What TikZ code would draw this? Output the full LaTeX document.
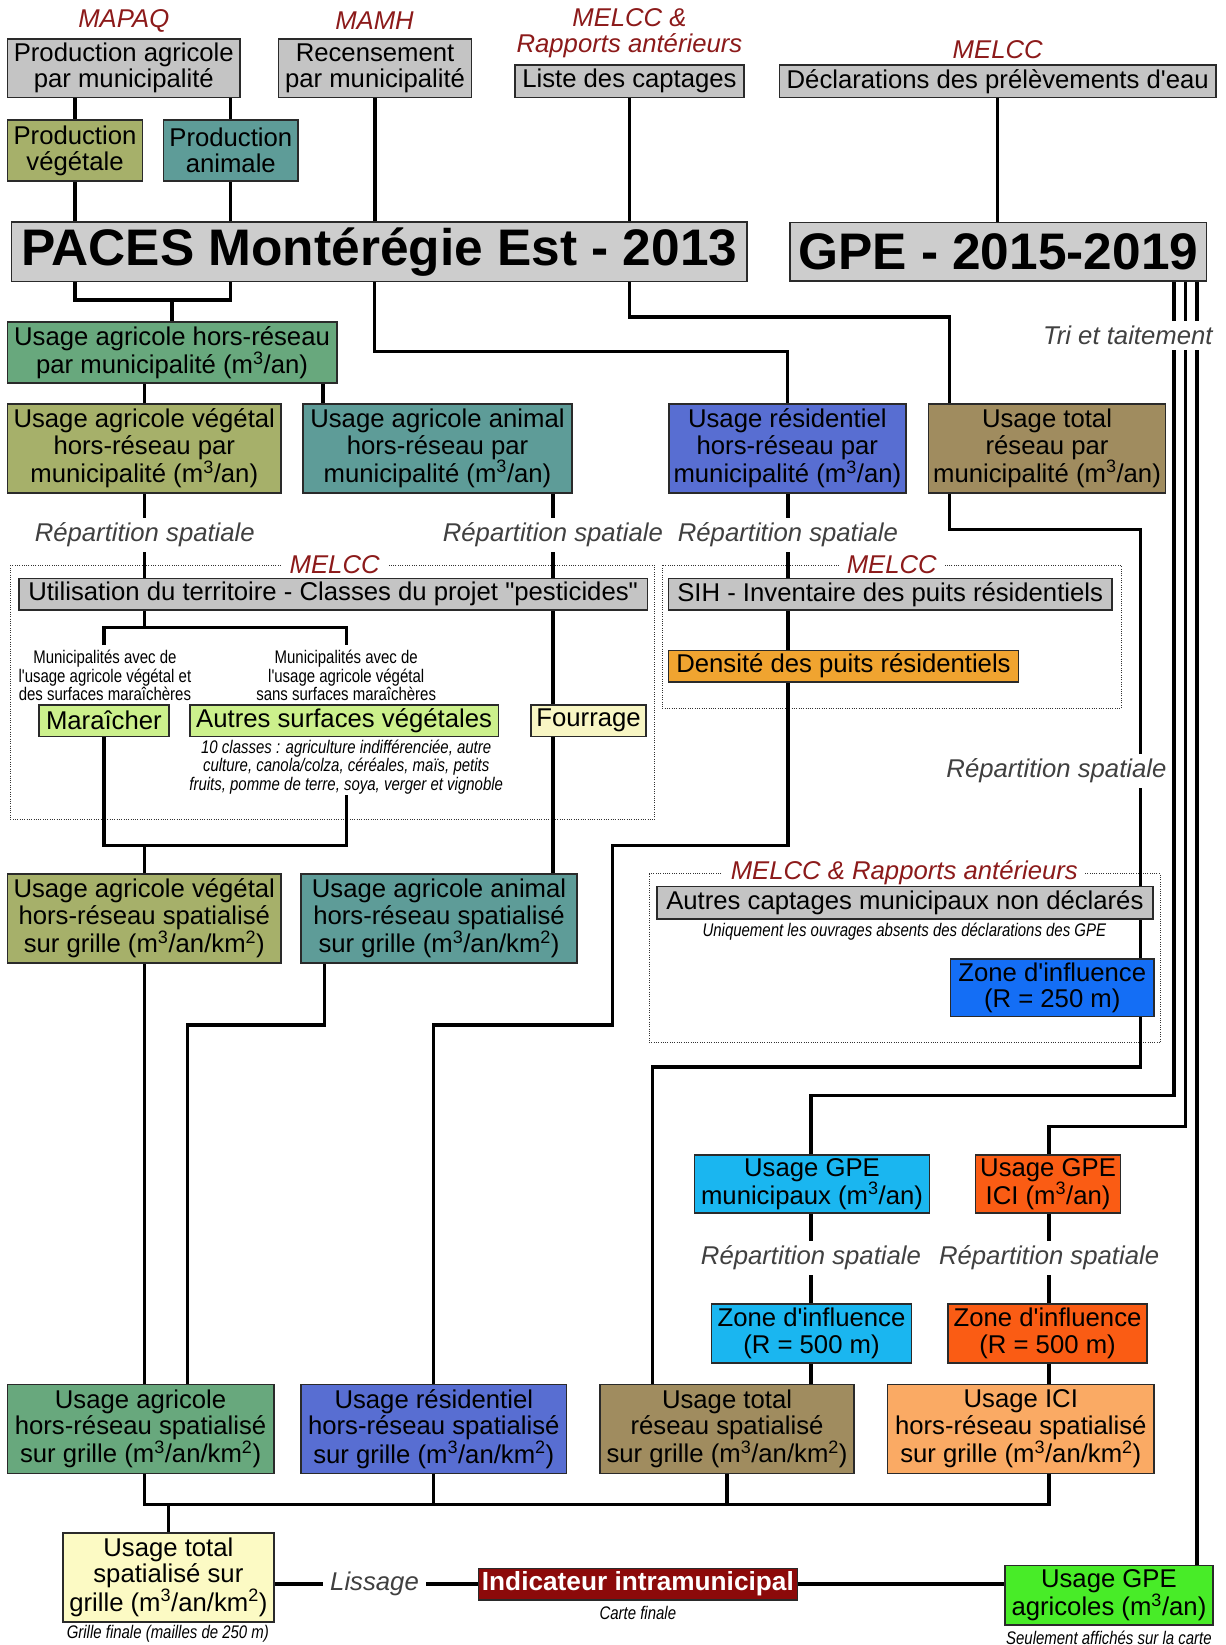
\documentclass[tikz,border=0pt]{standalone}
\usepackage{fontspec}
\setmainfont{Liberation Sans}[Ligatures=TeXOff]
\newfontfamily\narrowf{Liberation Sans}[FakeStretch=0.82,Ligatures=TeXOff]
\usetikzlibrary{backgrounds}
\definecolor{bline}{HTML}{2A2A2A}
\definecolor{cgray}{HTML}{C4C4C4}
\definecolor{cgrayl}{HTML}{CDCDCD}
\definecolor{colive}{HTML}{A6B06A}
\definecolor{cteal}{HTML}{5E9C98}
\definecolor{cgreen}{HTML}{68A87D}
\definecolor{cblue}{HTML}{586ED2}
\definecolor{ctan}{HTML}{A08C5F}
\definecolor{corange}{HTML}{F0A430}
\definecolor{clgreen}{HTML}{CCF08C}
\definecolor{clyellow}{HTML}{F8F6C4}
\definecolor{cbright}{HTML}{146EF5}
\definecolor{ccyan}{HTML}{1AB6F0}
\definecolor{cred}{HTML}{FA5C14}
\definecolor{cpeach}{HTML}{FAAA64}
\definecolor{cyel}{HTML}{FCFAC4}
\definecolor{cind}{HTML}{8C0A0A}
\definecolor{cgpeag}{HTML}{48EC28}
\definecolor{srcred}{HTML}{8C1A1A}
\definecolor{labgray}{HTML}{404040}
\newcommand\mainf{\fontsize{24.5}{25}\selectfont}
\newcommand\smallf{\narrowf\fontsize{17.4}{17.6}\selectfont}
\begin{document}
\begin{tikzpicture}[x=1pt,y=-1pt,
  box/.style={draw=bline, line width=1.5pt, inner sep=0pt, align=center, font=\mainf},
  lab/.style={font=\mainf\itshape, text=labgray, fill=white, inner xsep=3pt, inner ysep=5pt},
  src/.style={font=\mainf\itshape, text=srcred, fill=white, inner sep=2pt, align=center},
  fsrc/.style={src, inner xsep=7pt},
  small/.style={font=\smallf, align=center, inner sep=1pt},
  smalli/.style={font=\smallf\itshape, align=center, inner sep=1pt, fill=white},
  conn/.style={line width=3.2pt, draw=black},
  frame/.style={dash pattern=on 0.9pt off 1.3pt, line width=0.9pt, draw=black!80},
  big/.style={box, font=\fontsize{49}{50}\selectfont\bfseries}]
\useasboundingbox (0,0) rectangle (1168,1568);
% sources
\node[src] (tMAPAQ) at (118,20) {MAPAQ};
\node[src] (tMAMH) at (357,20) {MAMH};
\node[src] (tMELR) at (600,32) {MELCC \&\\Rapports antérieurs};
\node[src] (tMELCC) at (951,47) {MELCC};
% top boxes
\node[box, fill=cgray, minimum width=222, minimum height=56] (A1) at (118,65) {Production agricole\\par municipalité};
\node[box, fill=cgray, minimum width=184, minimum height=56] (A2) at (357.5,65) {Recensement\\par municipalité};
\node[box, fill=cgray, minimum width=218, minimum height=31] (A3) at (600,77.5) {Liste des captages};
\node[box, fill=cgray, minimum width=416, minimum height=31] (A4) at (951,77.5) {Déclarations des prélèvements d'eau};
\node[box, fill=colive, minimum width=129, minimum height=58] (PV) at (71.5,143.5) {Production\\végétale};
\node[box, fill=cteal, minimum width=128, minimum height=58] (PA) at (220,143.5) {Production\\animale};
\node[big, fill=cgrayl, minimum width=701, minimum height=57] (PACES) at (361.5,240) {PACES Montérégie Est - 2013};
\node[big, fill=cgrayl, minimum width=397, minimum height=56] (GPE) at (951.5,240) {GPE - 2015-2019};
\node[lab] (TRI) at (1075,320) {Tri et taitement};
% municipal usage
\node[box, fill=cgreen, minimum width=314, minimum height=58] (UAH) at (164,336) {Usage agricole hors-réseau\\par municipalité (m\textsuperscript{3}/an)};
\node[box, fill=colive, minimum width=261, minimum height=85] (UAV) at (137.5,427.5) {Usage agricole végétal\\hors-réseau par\\municipalité (m\textsuperscript{3}/an)};
\node[box, fill=cteal, minimum width=256, minimum height=85] (UAA) at (417,427.5) {Usage agricole animal\\hors-réseau par\\municipalité (m\textsuperscript{3}/an)};
\node[box, fill=cblue, minimum width=226, minimum height=85] (URH) at (750.5,427.5) {Usage résidentiel\\hors-réseau par\\municipalité (m\textsuperscript{3}/an)};
\node[box, fill=ctan, minimum width=226, minimum height=85] (UTR) at (998,427.5) {Usage total\\réseau par\\municipalité (m\textsuperscript{3}/an)};
\node[lab] (R1) at (138,510) {Répartition spatiale};
\node[lab] (R2) at (527,510) {Répartition spatiale};
\node[lab] (R3) at (751,510) {Répartition spatiale};
% frames labels
\node[fsrc] (M1) at (319,538) {MELCC};
\node[fsrc] (M2) at (850,538) {MELCC};
\node[fsrc] (M3) at (862,832) {MELCC \& Rapports antérieurs};
% land use
\node[box, fill=cgray, minimum width=599, minimum height=30] (UTIL) at (317.5,566.5) {Utilisation du territoire - Classes du projet "pesticides"};
\node[box, fill=cgray, minimum width=423, minimum height=30] (SIH) at (848.5,566.5) {SIH - Inventaire des puits résidentiels};
\node[box, fill=corange, minimum width=334, minimum height=30] (DENS) at (804,635) {Densité des puits résidentiels};
\node[small] (S1) at (100,644) {Municipalités avec de\\l'usage agricole végétal et\\des surfaces maraîchères};
\node[small] (S2) at (330,644) {Municipalités avec de\\l'usage agricole végétal\\sans surfaces maraîchères};
\node[box, fill=clgreen, minimum width=124, minimum height=30] (MAR) at (99,687) {Maraîcher};
\node[box, fill=clgreen, minimum width=294, minimum height=30] (AUT) at (328,687) {Autres surfaces végétales};
\node[box, fill=clyellow, minimum width=110, minimum height=30] (FOUR) at (561,687) {Fourrage};
\node[smalli] (NOTE) at (330,731) {10 classes : agriculture indifférenciée, autre\\culture, canola/colza, céréales, maïs, petits\\fruits, pomme de terre, soya, verger et vignoble};
\node[lab] (R4) at (1007,735) {Répartition spatiale};
% gridded
\node[box, fill=colive, minimum width=261, minimum height=85] (UAVS) at (137.5,875.5) {Usage agricole végétal\\hors-réseau spatialisé\\sur grille (m\textsuperscript{3}/an/km\textsuperscript{2})};
\node[box, fill=cteal, minimum width=263, minimum height=85] (UAAS) at (418.5,875.5) {Usage agricole animal\\hors-réseau spatialisé\\sur grille (m\textsuperscript{3}/an/km\textsuperscript{2})};
\node[box, fill=cgray, minimum width=473, minimum height=31] (AUTC) at (862.5,860.5) {Autres captages municipaux non déclarés};
\node[smalli] (NOTE2) at (862,888) {Uniquement les ouvrages absents des déclarations des GPE};
\node[box, fill=cbright, minimum width=194, minimum height=55] (Z250) at (1003,941.5) {Zone d'influence\\(R = 250 m)};
% GPE
\node[box, fill=ccyan, minimum width=224, minimum height=55] (MUN) at (774,1128.5) {Usage GPE\\municipaux (m\textsuperscript{3}/an)};
\node[box, fill=cred, minimum width=138, minimum height=55] (ICI) at (999,1128.5) {Usage GPE\\ICI (m\textsuperscript{3}/an)};
\node[lab] (R5) at (773,1199) {Répartition spatiale};
\node[lab] (R6) at (1000,1199) {Répartition spatiale};
\node[box, fill=ccyan, minimum width=191, minimum height=56] (Z5a) at (773.5,1271) {Zone d'influence\\(R = 500 m)};
\node[box, fill=cred, minimum width=190, minimum height=56] (Z5b) at (998.5,1271) {Zone d'influence\\(R = 500 m)};
% bottom row
\node[box, fill=cgreen, minimum width=254, minimum height=85] (UAS) at (134,1362) {Usage agricole\\hors-réseau spatialisé\\sur grille (m\textsuperscript{3}/an/km\textsuperscript{2})};
\node[box, fill=cblue, minimum width=253, minimum height=85] (URS) at (413.5,1362) {Usage résidentiel\\hors-réseau spatialisé\\sur grille (m\textsuperscript{3}/an/km\textsuperscript{2})};
\node[box, fill=ctan, minimum width=242, minimum height=85] (UTS) at (693,1362) {Usage total\\réseau spatialisé\\sur grille (m\textsuperscript{3}/an/km\textsuperscript{2})};
\node[box, fill=cpeach, minimum width=254, minimum height=85] (UIS) at (973,1362) {Usage ICI\\hors-réseau spatialisé\\sur grille (m\textsuperscript{3}/an/km\textsuperscript{2})};
\node[box, fill=cyel, minimum width=201, minimum height=85] (UT) at (160.5,1503.5) {Usage total\\spatialisé sur\\grille (m\textsuperscript{3}/an/km\textsuperscript{2})};
\node[smalli] (GF) at (160,1557) {Grille finale (mailles de 250 m)};
\node[lab, inner xsep=7pt] (LIS) at (357,1510) {Lissage};
\node[box, fill=cind, text=white, font=\fontsize{25}{26}\selectfont\bfseries, minimum width=304, minimum height=30] (IND) at (608,1510) {Indicateur intramunicipal};
\node[smalli] (CF) at (608,1537) {Carte finale};
\node[box, fill=cgpeag, minimum width=198, minimum height=57] (GPEAG) at (1057,1520.5) {Usage GPE\\agricoles (m\textsuperscript{3}/an)};
\node[smalli] (SEUL) at (1057,1561) {Seulement affichés sur la carte};
% coordinates
\coordinate (j0) at (164,286);
\coordinate (b1) at (357,335);
\coordinate (b2) at (600,302);
\coordinate (b3) at (905,302);
\coordinate (xa) at (308,0);
\coordinate (xf) at (527,0);
\coordinate (d1) at (751,806);
\coordinate (d2) at (584,806);
\coordinate (d3) at (584,977);
\coordinate (d4) at (413.5,977);
\coordinate (e1) at (905,505);
\coordinate (e2) at (1087,505);
\coordinate (e3) at (1087,1017);
\coordinate (e4) at (622,1017);
\coordinate (f0) at (138,598);
\coordinate (f1) at (99,598);
\coordinate (f2) at (330,598);
\coordinate (f1b) at (99,615);
\coordinate (f2b) at (330,615);
\coordinate (g0) at (138,806);
\coordinate (g1) at (99,806);
\coordinate (g2) at (330,806);
\coordinate (h1) at (309,977);
\coordinate (h2) at (179,977);
\coordinate (L1) at (1119,1044);
\coordinate (L1b) at (773,1044);
\coordinate (L2) at (1130,1074);
\coordinate (L2b) at (1000,1074);
\coordinate (L3) at (1141,0);
\coordinate (k1) at (138,1434);
\coordinate (k2) at (1000,1434);
\begin{scope}[on background layer]
\draw[frame] (10,539) rectangle (624,781);
\draw[frame] (631,539) rectangle (1069,675);
\draw[frame] (619,833) rectangle (1106,994);
\draw[conn] (A1.south -| PV.north) -- (PV.north);
\draw[conn] (A1.south -| PA.north) -- (PA.north);
\draw[conn] (PV.south) -- (PACES.north -| PV.south);
\draw[conn] (PA.south) -- (PACES.north -| PA.south);
\draw[conn] (A2.south) -- (PACES.north -| A2.south);
\draw[conn] (A3.south) -- (PACES.north -| A3.south);
\draw[conn] (A4.south) -- (GPE.north -| A4.south);
\draw[conn] (PACES.south -| PV.south) |- (j0) -| (PACES.south -| PA.south);
\draw[conn] (j0) -- (UAH.north);
\draw[conn] (PACES.south -| b1) -- (b1) -| (URH.north);
\draw[conn] (PACES.south -| b2) -- (b2) -- (b3) -- (UTR.north -| b3);
\draw[conn] (UAH.south -| UAV.north) -- (UAV.north);
\draw[conn] (UAH.south -| xa) -- (UAA.north -| xa);
\draw[conn] (UAV.south) -- (UTIL.north -| UAV.south);
\draw[conn] (UAA.south -| xf) -- (FOUR.north -| xf);
\draw[conn] (URH.south -| d1) -- (d1) -- (d2) -- (d3) -- (d4) -- (URS.north);
\draw[conn] (UTR.south -| e1) -- (e1) -- (e2) -- (e3) -- (e4) -- (UTS.north -| e4);
\draw[conn] (UTIL.south -| f0) -- (f0);
\draw[conn] (f1b) -- (f1) -- (f2) -- (f2b);
\draw[conn] (MAR.south) -- (g1) -- (g2) -- (NOTE.south -| g2);
\draw[conn] (g0) -- (UAVS.north -| g0);
\draw[conn] (FOUR.south -| xf) -- (UAAS.north -| xf);
\draw[conn] (UAVS.south -| g0) -- (UAS.north -| g0);
\draw[conn] (UAAS.south -| h1) -- (h1) -- (h2) -- (UAS.north -| h2);
\draw[conn] (GPE.south -| L1) -- (L1) -- (L1b) -- (MUN.north -| L1b);
\draw[conn] (GPE.south -| L2) -- (L2) -- (L2b) -- (ICI.north -| L2b);
\draw[conn] (GPE.south -| L3) -- (GPEAG.north -| L3);
\draw[conn] (MUN.south -| L1b) -- (Z5a.north -| L1b);
\draw[conn] (Z5a.south -| L1b) -- (UTS.north -| L1b);
\draw[conn] (ICI.south -| L2b) -- (Z5b.north -| L2b);
\draw[conn] (Z5b.south -| L2b) -- (UIS.north -| L2b);
\draw[conn] (UAS.south -| k1) -- (k1) -- (k2) -- (UIS.south -| k2);
\draw[conn] (URS.south) -- (URS.south |- k1);
\draw[conn] (UTS.south) -- (UTS.south |- k1);
\draw[conn] (UT.north) -- (UT.north |- k1);
\draw[conn] (UT.east |- IND.west) -- (IND.west);
\draw[conn] (IND.east) -- (IND.east -| GPEAG.west);
\end{scope}
\end{tikzpicture}
\end{document}
